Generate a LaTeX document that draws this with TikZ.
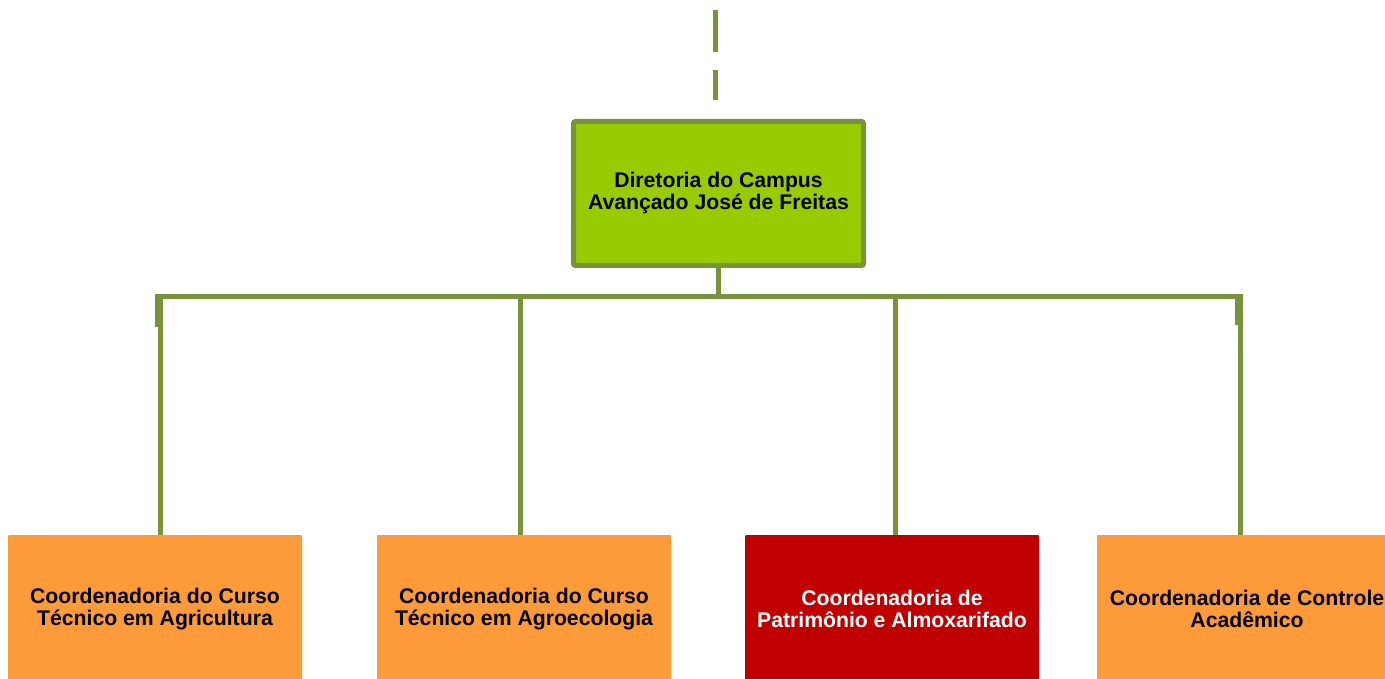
\documentclass[tikz,border=0pt]{standalone}
\usepackage{fontspec}
\setmainfont{Liberation Sans}
\definecolor{lineg}{HTML}{77933C}
\definecolor{topg}{HTML}{99CC00}
\definecolor{orangebox}{HTML}{FD9A3A}
\definecolor{redbox}{HTML}{C00000}
\begin{document}
\begin{tikzpicture}[x=1pt,y=-1pt,
  conn/.style={draw=lineg,line width=5pt},
  topbox/.style={draw=lineg,line width=5pt,fill=topg,rounded corners=2pt,minimum width=290pt,minimum height=144pt,inner sep=0pt,align=center,font=\bfseries\fontsize{21.2}{22}\selectfont,text=black},
  lowbox/.style={fill=#1,minimum width=294pt,minimum height=148pt,inner sep=0pt,align=center,font=\bfseries\fontsize{21.2}{22}\selectfont,rounded corners=1pt}
]
\useasboundingbox (0,0) rectangle (1385,679);
\clip (0,0) rectangle (1385,679);
% top dashed line
\coordinate (dtop) at (715,10);
\coordinate (dbot) at (715,100);
\draw[conn,dash pattern=on 42pt off 18pt] (dtop) -- (dbot);
% top box
\node[topbox] (top) at (718.5,193.5) {Diretoria do Campus\\Avançado José de Freitas};
% lower boxes
\node[lowbox=orangebox,text=black] (b1) at (155,609) {Coordenadoria do Curso\\Técnico em Agricultura};
\node[lowbox=orangebox,text=black] (b2) at (524,609) {Coordenadoria do Curso\\Técnico em Agroecologia};
\node[lowbox=redbox,text=white] (b3) at (892,609) {Coordenadoria de\\Patrimônio e Almoxarifado};
\node[lowbox=orangebox,text=black,minimum width=300pt] (b4) at (1247,609) {Coordenadoria de Controle\\Acadêmico};
% joints
\coordinate (j0) at (718.5,297);
\coordinate (j1) at (160,297);
\coordinate (j2) at (520,297);
\coordinate (j3) at (895,297);
\coordinate (j4) at (1240,297);
\coordinate (jl) at (157.5,297);
\coordinate (jr) at (1242.5,297);
\draw[conn] (top.south) -- (j0);
\draw[conn] (jl) -- (jr);
\draw[conn] (j1) -- (j1 |- b1.north);
\draw[conn] (j2) -- (j2 |- b2.north);
\draw[conn] (j3) -- (j3 |- b3.north);
\draw[conn] (j4) -- (j4 |- b4.north);
% stubs
\fill[lineg] (155,294.5) rectangle (162,327);
\fill[lineg] (1235,294.5) rectangle (1243,325);
\end{tikzpicture}
\end{document}
